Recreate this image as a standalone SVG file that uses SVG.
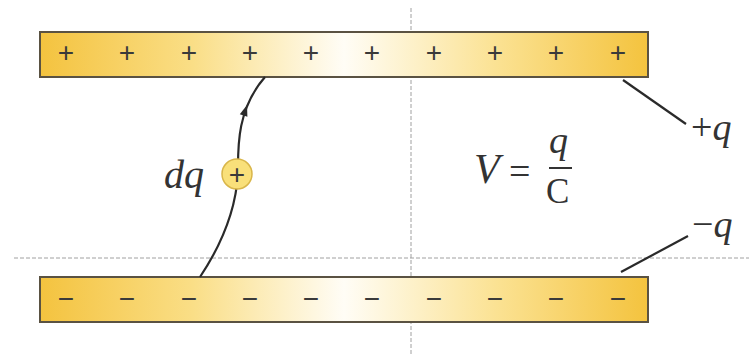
<svg xmlns="http://www.w3.org/2000/svg" width="749" height="354" viewBox="0 0 749 354">
  <style>
    .plate { stroke: #5a5242; stroke-width: 2; fill: url(#plateGrad); }
    .guide { stroke: #a0a0a0; stroke-width: 1; stroke-dasharray: 4 2; fill: none; }
    .sign { font-family: "Liberation Sans", Arial, sans-serif; font-size: 28px; fill: #3a3a3a; text-anchor: middle; }
    .math { font-family: "Liberation Serif", "Times New Roman", serif; font-style: italic; fill: #333; }
    .up { font-family: "Liberation Serif", "Times New Roman", serif; fill: #333; }
    .lead { stroke: #2a2a2a; stroke-width: 2.2; fill: none; }
  </style>
  <defs>
    <linearGradient id="plateGrad" gradientUnits="userSpaceOnUse" x1="40" y1="0" x2="648" y2="0">
      <stop offset="0" stop-color="#F4C33F"/>
      <stop offset="0.25" stop-color="#FADE86"/>
      <stop offset="0.5" stop-color="#FFFDF6"/>
      <stop offset="0.75" stop-color="#FBE293"/>
      <stop offset="1" stop-color="#F4C33E"/>
    </linearGradient>
  </defs>
  <rect width="749" height="354" fill="#ffffff"/>

  <g id="guides">
    <line class="guide" x1="411" y1="8" x2="411" y2="354"/>
    <line class="guide" x1="14" y1="258" x2="749" y2="258"/>
  </g>

  <g id="top-plate">
    <rect class="plate" x="40" y="32" width="608" height="45"/>
    <text class="sign" x="66" y="62">+</text>
    <text class="sign" x="127" y="62">+</text>
    <text class="sign" x="189" y="62">+</text>
    <text class="sign" x="250" y="62">+</text>
    <text class="sign" x="311" y="62">+</text>
    <text class="sign" x="372" y="62">+</text>
    <text class="sign" x="434" y="62">+</text>
    <text class="sign" x="495" y="62">+</text>
    <text class="sign" x="556" y="62">+</text>
    <text class="sign" x="618" y="62">+</text>
  </g>

  <g id="bottom-plate">
    <rect class="plate" x="40" y="277" width="608" height="45"/>
    <text class="sign" x="66" y="308">−</text>
    <text class="sign" x="127" y="308">−</text>
    <text class="sign" x="189" y="308">−</text>
    <text class="sign" x="250" y="308">−</text>
    <text class="sign" x="311" y="308">−</text>
    <text class="sign" x="372" y="308">−</text>
    <text class="sign" x="434" y="308">−</text>
    <text class="sign" x="495" y="308">−</text>
    <text class="sign" x="556" y="308">−</text>
    <text class="sign" x="618" y="308">−</text>
  </g>

  <g id="connectors">
    <path class="lead" d="M200,277 C226,238 236,205 238,174 C238,150 236,110 265,77"/>
    <path d="M0,0 L-11,-4 L-11,4 Z" fill="#2a2a2a" transform="translate(247,105) rotate(-72)"/>
    <line class="lead" x1="623" y1="80" x2="686" y2="124"/>
    <line class="lead" x1="621" y1="272" x2="688" y2="236"/>
  </g>

  <g id="charge-dq">
    <circle cx="237" cy="174" r="15" fill="#F9E07A" stroke="#D9B64A" stroke-width="1.5"/>
    <text class="sign" x="237" y="183.5">+</text>
    <text class="math" x="164" y="188" font-size="40">dq</text>
  </g>

  <g id="label-plus-q">
    <text class="up" x="691" y="140" font-size="38">+<tspan class="math">q</tspan></text>
  </g>
  <g id="label-minus-q">
    <text class="up" x="692" y="237" font-size="38">−<tspan class="math">q</tspan></text>
  </g>

  <g id="formula">
    <text class="math" x="474" y="183" font-size="42">V</text>
    <text class="up" x="509" y="184" font-size="38">=</text>
    <text class="math" x="549" y="153" font-size="38">q</text>
    <line x1="549" y1="168" x2="572" y2="168" stroke="#333" stroke-width="2"/>
    <text class="up" x="546" y="203" font-size="35">C</text>
  </g>
</svg>
